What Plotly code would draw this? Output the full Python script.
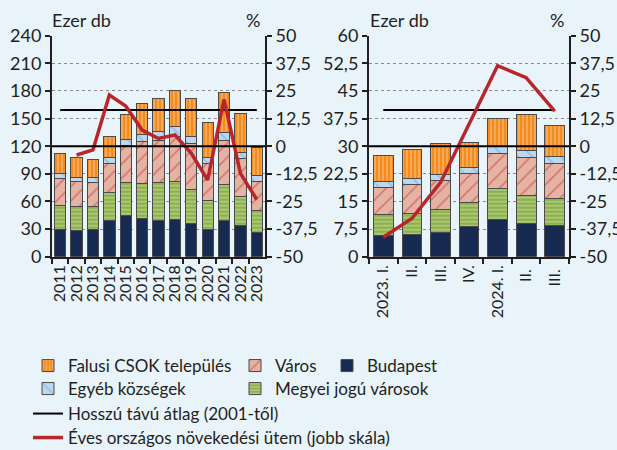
import plotly.graph_objects as go
from plotly.subplots import make_subplots

# annual data (thousand units), 2011-2023
years = ["2011", "2012", "2013", "2014", "2015", "2016", "2017",
         "2018", "2019", "2020", "2021", "2022", "2023"]
budapest_y = [29.7, 29.0, 29.7, 39.1, 45.2, 41.6, 39.8, 40.9, 36.6, 29.7, 39.8, 34.4, 26.4]
megyei_y = [26.4, 25.7, 24.6, 30.8, 35.5, 38.4, 40.9, 40.9, 36.5, 31.1, 38.8, 30.8, 23.9]
varos_y = [29.0, 26.7, 26.8, 31.8, 40.2, 45.2, 45.3, 48.2, 49.3, 40.6, 47.7, 41.2, 31.1]
egyeb_y = [5.0, 4.8, 4.7, 5.8, 6.5, 7.7, 10.1, 11.2, 7.9, 6.5, 8.4, 6.9, 6.6]
falusi_y = [21.8, 21.3, 19.9, 23.2, 27.2, 33.3, 35.5, 39.4, 41.6, 38.3, 43.4, 42.0, 31.1]
growth_y = [None, -4.0, -1.7, 23.2, 18.2, 7.3, 3.5, 5.1, -3.2, -15.3, 21.2, -12.3, -24.1]
avg_y = [159.3] * len(years)

# quarterly data (thousand units), 2023 Q1 - 2024 Q3
quarters = ["2023. I.", "II.", "III.", "IV.", "2024. I.", "II. ", "III. "]
budapest_q = [5.8, 6.1, 6.6, 8.1, 10.2, 9.1, 8.6]
megyei_q = [5.7, 5.7, 6.1, 6.7, 8.3, 7.6, 7.1]
varos_q = [7.4, 7.8, 8.0, 7.9, 9.5, 10.1, 9.6]
egyeb_q = [1.4, 1.5, 1.7, 1.6, 1.8, 2.0, 1.8]
falusi_q = [7.2, 8.1, 8.2, 6.7, 7.8, 9.8, 8.6]
growth_q = [-41.2, -32.7, -16.5, 10.0, 36.4, 31.0, 15.9]
avg_q = [39.8] * len(quarters)

right_ticks = [-50, -37.5, -25, -12.5, 0, 12.5, 25, 37.5, 50]
right_text = ["-50", "-37,5", "-25", "-12,5", "0", "12,5", "25", "37,5", "50"]

BG = "#E9F3FA"
TXT = "#231F20"
FONT = "Lato"
EDGE = dict(color="#4A4A4A", width=1)
W, H = 617, 450

# legend slot per series: (legend id, left px, row centre px)
slots = {
    "Falusi CSOK település": ("legend", 28, 366),
    "Város": ("legend2", 235, 366),
    "Budapest": ("legend3", 327, 366),
    "Egyéb községek": ("legend4", 28, 389),
    "Megyei jogú városok": ("legend5", 235, 389),
    "Hosszú távú átlag (2001-től)": ("legend6", 28, 414),
    "Éves országos növekedési ütem (jobb skála)": ("legend7", 28, 438),
}

series = [
    ("Budapest", dict(color="#172A52", line=EDGE)),
    ("Megyei jogú városok", dict(color="#8CB04A", line=EDGE,
        pattern=dict(shape="-", bgcolor="#8CB04A", fgcolor="#DCEAC4", size=4, solidity=0.4))),
    ("Város", dict(color="#E4B3A3", line=EDGE,
        pattern=dict(shape="/", bgcolor="#E4B3A3", fgcolor="#C1272D", size=10, solidity=0.15))),
    ("Egyéb községek", dict(color="#BDD7EE", line=EDGE,
        pattern=dict(shape="\\", bgcolor="#BDD7EE", fgcolor="#5B9BD5", size=10, solidity=0.15))),
    ("Falusi CSOK település", dict(color="#F48B1E", line=EDGE,
        pattern=dict(shape="|", bgcolor="#F48B1E", fgcolor="#FDE0BE", size=4, solidity=0.35))),
]
annual = [budapest_y, megyei_y, varos_y, egyeb_y, falusi_y]
quarterly = [budapest_q, megyei_q, varos_q, egyeb_q, falusi_q]

fig = make_subplots(rows=1, cols=2, specs=[[{"secondary_y": True}, {"secondary_y": True}]])

for (name, marker), ya, yq in zip(series, annual, quarterly):
    fig.add_trace(go.Bar(x=years, y=ya, name=name, marker=marker, legend=slots[name][0]),
                  row=1, col=1, secondary_y=False)
    fig.add_trace(go.Bar(x=quarters, y=yq, name=name, marker=marker, showlegend=False),
                  row=1, col=2, secondary_y=False)

avg_name = "Hosszú távú átlag (2001-től)"
growth_name = "Éves országos növekedési ütem (jobb skála)"
fig.add_trace(go.Scatter(x=years, y=avg_y, mode="lines", name=avg_name,
                         line=dict(color="black", width=2), legend=slots[avg_name][0]),
              row=1, col=1, secondary_y=False)
fig.add_trace(go.Scatter(x=quarters, y=avg_q, mode="lines", showlegend=False,
                         line=dict(color="black", width=2)),
              row=1, col=2, secondary_y=False)
fig.add_trace(go.Scatter(x=years, y=growth_y, mode="lines", name=growth_name,
                         line=dict(color="#B8262B", width=3.5), legend=slots[growth_name][0]),
              row=1, col=1, secondary_y=True)
fig.add_trace(go.Scatter(x=quarters, y=growth_q, mode="lines", showlegend=False,
                         line=dict(color="#B8262B", width=3.5)),
              row=1, col=2, secondary_y=True)

# zero line of the right scale
for c in (1, 2):
    fig.add_hline(y=0, row=1, col=c, secondary_y=True, line=dict(color="black", width=2))

ytop, ybot = 1 - 35.7 / H, 1 - 256.7 / H
tickfont = dict(family=FONT, size=18, color=TXT)
xfont = dict(family=FONT, size=16, color=TXT)
common = dict(showline=True, linecolor="#231F20", linewidth=2, ticks="outside",
              ticklen=5, tickcolor="#231F20", tickwidth=2, tickfont=tickfont,
              automargin=False)
legfont = dict(family=FONT, size=17, color=TXT)

legends = {}
for lid, left, yc in slots.values():
    legends[lid] = dict(x=left / W, y=1 - yc / H, xanchor="left", yanchor="middle",
                        bgcolor="rgba(0,0,0,0)", font=legfont, itemwidth=30)

fig.update_layout(
    barmode="stack", bargap=0.31,
    width=W, height=H, margin=dict(l=0, r=0, t=0, b=0, autoexpand=False),
    paper_bgcolor=BG, plot_bgcolor=BG,
    separators=", ",
    font=dict(family=FONT, color=TXT),
    xaxis=dict(domain=[52 / W, 265 / W], tickangle=-90, tickson="boundaries",
               tickmode="array", tickvals=years, ticktext=years,
               **{**common, "tickfont": xfont}),
    xaxis2=dict(domain=[369 / W, 569 / W], tickangle=-90, tickson="boundaries",
                tickmode="array", tickvals=quarters, ticktext=quarters,
                **{**common, "tickfont": xfont}),
    yaxis=dict(domain=[ybot, ytop], range=[0, 240], dtick=30, showgrid=True,
               gridcolor="#8A8A8A", griddash="dot", gridwidth=1, zeroline=False, **common),
    yaxis2=dict(range=[-50, 50], tickvals=right_ticks, ticktext=right_text,
                showgrid=False, zeroline=False, **common),
    yaxis3=dict(domain=[ybot, ytop], range=[0, 60], dtick=7.5, showgrid=True,
                gridcolor="#8A8A8A", griddash="dot", gridwidth=1, zeroline=False, **common),
    yaxis4=dict(range=[-50, 50], tickvals=right_ticks, ticktext=right_text,
                showgrid=False, zeroline=False, **common),
    **legends,
)

for x, text in [(50, "Ezer db"), (368, "Ezer db")]:
    fig.add_annotation(x=x / W, y=1 - 20 / H, xref="paper", yref="paper", text=text,
                       showarrow=False, xanchor="left", yanchor="middle",
                       font=dict(family=FONT, size=18, color=TXT))
for x in (262, 566):
    fig.add_annotation(x=x / W, y=1 - 20 / H, xref="paper", yref="paper", text="%",
                       showarrow=False, xanchor="right", yanchor="middle",
                       font=dict(family=FONT, size=18, color=TXT))

fig.write_html("out.html", config={"displayModeBar": False},
               post_script="document.body.style.margin='0';document.body.style.overflow='hidden';")
